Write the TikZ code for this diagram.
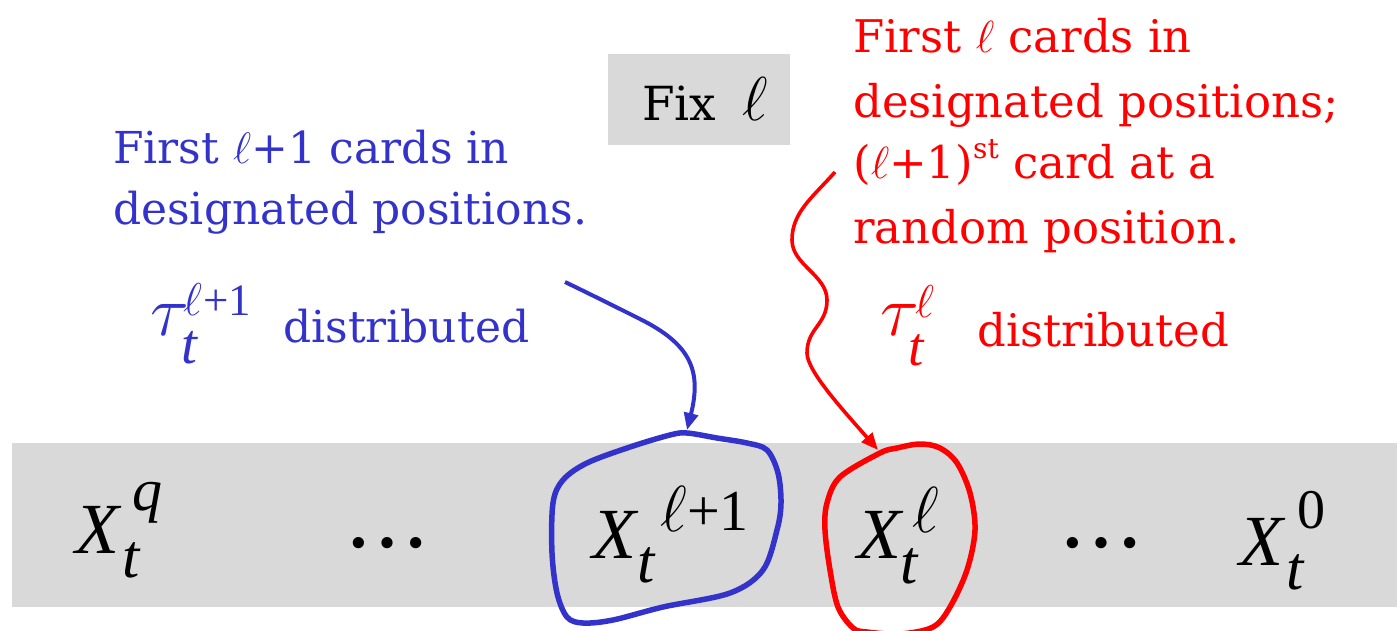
\RequirePackage{fix-cm}
\documentclass[tikz,border=0pt]{standalone}
\usepackage{fontspec}
\setmainfont{DejaVu Serif}
\newfontfamily\mif{Liberation Serif}
\usetikzlibrary{arrows.meta}
\definecolor{myblue}{HTML}{3333CC}
\definecolor{myred}{HTML}{FF0000}
\definecolor{bandgray}{HTML}{D9D9D9}
\newcommand{\fsz}[1]{\fontsize{#1}{#1}\selectfont}
\newcommand{\putat}[3]{\makebox[0pt][l]{\kern#1\raisebox{#2}{#3}}}
\tikzset{
  txt/.style={inner sep=0pt, anchor=base west},
  btxt/.style={txt, text=myblue, font=\fsz{44}},
  rtxt/.style={txt, text=myred, font=\fsz{45}},
  mth/.style={txt, font=\mif\itshape\fsz{72}},
  dots/.style={txt, font=\fsz{86}},
  bluearrow/.style={draw=myblue, line width=4pt, -{Triangle[length=17pt,width=14pt]}},
  redarrow/.style={draw=myred, line width=3.6pt, -{Triangle[length=17pt,width=14pt]}},
  blueloop/.style={draw=myblue, line width=5.5pt},
  redloop/.style={draw=myred, line width=5.5pt},
}
\begin{document}
\begin{tikzpicture}[x=1pt,y=-1pt]
\useasboundingbox (0,0) rectangle (1397,630);
% band
\fill[bandgray] (12,443) rectangle (1397,607);
% Fix box
\node[fill=bandgray, minimum width=182pt, minimum height=91pt, inner sep=0pt] (fixbox) at (699,99) {};
\node[txt, font=\fsz{47}] (fixt) at (642,120) {Fix\hspace{26pt}{\fsz{62}$\ell$}};

% blue texts
\node[btxt] (b1) at (113,163) {First $\ell$+1 cards in};
\node[btxt] (b2) at (113,224) {designated positions.};
\node[txt, text=myblue, font=\mif\itshape\fsz{52}] (btau) at (150,335)
  {\putat{0pt}{0pt}{\fsz{72}$\tau$}\putat{31pt}{-28pt}{\fsz{57}t}\putat{33pt}{20pt}{\fsz{46}$\ell$}\putat{53pt}{20pt}{\upshape\fsz{45}+1}\kern100pt};
\node[btxt] (bdist) at (283,342) {distributed};

% red texts
\node[rtxt] (r1) at (853,52) {First $\ell$ cards in};
\node[rtxt] (r2) at (853,117) {designated positions;};
\node[rtxt] (r3) at (853,178) {($\ell$+1)\raisebox{20pt}{\fsz{28}st} card at a};
\node[rtxt] (r4) at (853,243) {random position.};
\node[txt, text=myred, font=\mif\itshape\fsz{52}] (rtau) at (880,335)
  {\putat{0pt}{0pt}{\fsz{72}$\tau$}\putat{28pt}{-30pt}{\fsz{55}t}\putat{35pt}{18pt}{\fsz{46}$\ell$}\kern60pt};
\node[rtxt] (rdist) at (977,346) {distributed};

% band contents
\node[mth] (xq) at (75,553)
  {\putat{0pt}{0pt}{X}\putat{47pt}{-24pt}{\fsz{62}t}\putat{57pt}{43pt}{\fsz{60}q}\kern85pt};
\node[dots] (d1) at (344,547) {…};
\node[mth] (xl1) at (592,558)
  {\putat{0pt}{0pt}{X}\putat{45pt}{-24pt}{\fsz{62}t}\putat{68pt}{27pt}{\fsz{65}$\ell$}\putat{95pt}{28pt}{\upshape\fsz{58}+1}\kern160pt};
\node[mth] (xl) at (857,558)
  {\putat{0pt}{0pt}{X}\putat{43pt}{-25pt}{\fsz{62}t}\putat{55pt}{26pt}{\fsz{65}$\ell$}\kern80pt};
\node[dots] (d2) at (1058,547) {…};
\node[mth] (x0) at (1239,565)
  {\putat{0pt}{0pt}{X}\putat{47pt}{-24pt}{\fsz{62}t}\putat{58pt}{37pt}{\upshape\fsz{56}0}\kern85pt};

% loops
\draw[blueloop] plot[smooth cycle, tension=0.55] coordinates {
  (687,433) (717,438) (747,443) (767,450) (778,473) (781,503) (777,530) (763,570)
  (730,593) (663,607) (613,620) (583,623) (567,617) (557,593) (552,553) (553,503)
  (563,480) (587,463) (630,447) (670,435)};
\draw[redloop] plot[smooth cycle, tension=0.55] coordinates {
  (920,444) (940,448) (957,463) (970,493) (975,530) (967,570) (950,607) (933,627)
  (900,634) (867,632) (853,628) (838,607) (830,570) (825,530) (827,503) (840,477)
  (880,453) (897,448)};

% connectors
\coordinate (bstart) at (565,282);
\coordinate (bmid) at (640,319);
\coordinate (btop) at (687,430);
\draw[bluearrow] (bstart) .. controls +(25,12) and +(-25,-12.5) .. (bmid)
  .. controls +(50,25) and +(15,-60) .. (btop);

\coordinate (rstart) at (835,172);
\coordinate (rw1) at (792,240);
\coordinate (rw2) at (827,300);
\coordinate (rw3) at (807,353);
\coordinate (rtip) at (878,450);
\draw[redarrow] (rstart) .. controls +(-22,25) and +(0,-28) .. (rw1)
  .. controls +(0,25) and +(0,-25) .. (rw2)
  .. controls +(0,25) and +(0,-25) .. (rw3)
  .. controls +(0,18) and +(-35,-40) .. (rtip);
\end{tikzpicture}
\end{document}
